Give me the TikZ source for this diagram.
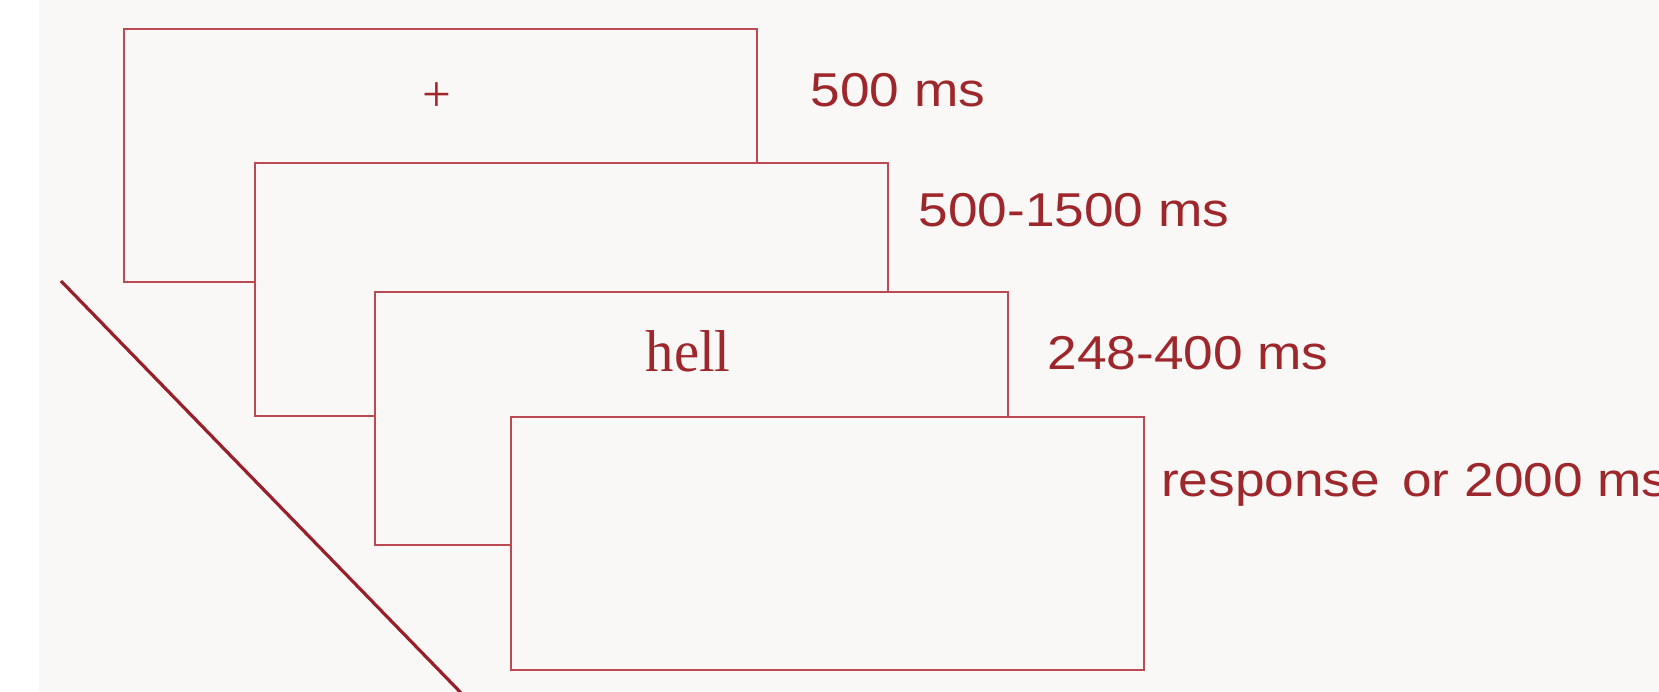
\documentclass[tikz,border=0pt]{standalone}
\usepackage{fontspec}
\setmainfont{Liberation Serif}
\newfontfamily\labelfont{Liberation Sans}
\definecolor{pagebg}{HTML}{FAF8F7}
\definecolor{framered}{HTML}{BC4A52}
\definecolor{textred}{HTML}{9E272C}
\definecolor{axisred}{HTML}{98202A}
\tikzset{
  screen/.style={draw=framered, line width=2pt, fill=pagebg, minimum width=633pt,
    minimum height=253pt, inner sep=0pt, anchor=north west},
  duration/.style={anchor=base west, inner sep=0pt, text=textred, xscale=1.12,
    font=\labelfont\fontsize{47.5}{56}\selectfont},
  stimulus/.style={inner sep=0pt, text=textred},
  timeaxis/.style={draw=axisred, line width=3.2pt}
}
\begin{document}
\begin{tikzpicture}[x=1pt, y=-1pt]
  % page and canvas
  \useasboundingbox (0,0) rectangle (1659,692);
  \fill[white] (0,0) rectangle (1659,692);
  \fill[pagebg] (39,0) rectangle (1659,692);
  \clip (0,0) rectangle (1659,692);

  % time axis running down behind the screens
  \coordinate (tstart) at (61,281);
  \coordinate (tend) at (500,733);
  \draw[timeaxis] (tstart) -- (tend);

  % stacked trial screens
  \node[screen] (fix)   at (123,28)    {};
  \node[screen] (blank) at (254,162.3) {};
  \node[screen] (word)  at (373.5,291) {};
  \node[screen] (resp)  at (510,415.8) {};

  % screen contents
  \node[stimulus, font=\fontsize{51}{60}\selectfont] (plus) at (437.3,97.5) {+};
  \node[stimulus, anchor=base west, xscale=0.96, font=\fontsize{59}{70}\selectfont] (target) at (645.5,371) {hell};

  % durations
  \node[duration] (d1) at (810.5,106.7) {500 ms};
  \node[duration] (d2) at (918.5,226.7) {500-1500 ms};
  \node[duration] (d3) at (1047.5,369.3) {248-400 ms};
  \node[duration] (d4) at (1161,496.7) {response\hspace{0.42em}or 2000 ms};
\end{tikzpicture}
\end{document}
